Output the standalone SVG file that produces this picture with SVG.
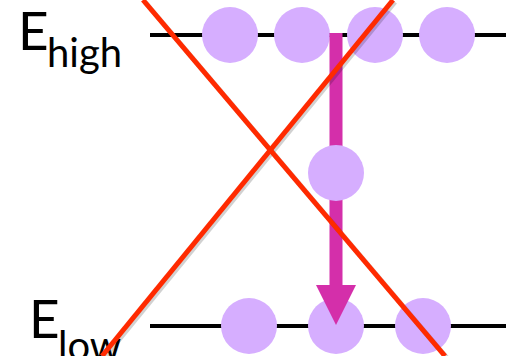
<svg xmlns="http://www.w3.org/2000/svg" width="506" height="356" viewBox="0 0 506 356">
<style>
.lvl{stroke:#000;stroke-width:4;fill:none}
.e{fill:#D6AEFF}
.lbl{font-family:Lato,"Open Sans",sans-serif;fill:#000}
.big{font-size:53px}
.sub{font-size:40px}
.x{stroke:#FF2A00;stroke-width:5;fill:none}
.xs{stroke:#000;stroke-opacity:0.18;stroke-width:5;fill:none}
</style>
<g id="labels">
<text class="lbl big" x="18" y="50">E</text><text class="lbl sub" x="47" y="67">high</text>
<text class="lbl big" x="29" y="338">E</text><text class="lbl sub" x="58" y="360">low</text>
</g>
<g id="levels">
<line id="high-level" class="lvl" x1="150" y1="35" x2="506" y2="35"/>
<line id="low-level" class="lvl" x1="150" y1="326" x2="506" y2="326"/>
</g>
<g id="electrons">
<circle class="e" cx="230" cy="35" r="28"/>
<circle class="e" cx="302" cy="35" r="28"/>
<circle class="e" cx="375" cy="35" r="28"/>
<circle class="e" cx="447" cy="35" r="28"/>
<circle class="e" cx="249" cy="326" r="28"/>
<circle class="e" cx="336" cy="326" r="28"/>
<circle class="e" cx="423" cy="326" r="28"/>
</g>
<g id="connectors">
<path id="arrow" fill="#D42FAA" d="M329.5,33 H342.5 V285 H356 L336,325 L316,285 H329.5 Z"/>
</g>
<g id="moving-electron">
<circle class="e" cx="336" cy="173" r="28"/>
</g>
<g id="cross">
<line class="xs" x1="145" y1="2" x2="447" y2="358"/>
<line class="xs" x1="395" y1="2" x2="104" y2="358"/>
<line class="x" x1="143" y1="0" x2="445" y2="356"/>
<line class="x" x1="393" y1="0" x2="102" y2="356"/>
</g>
</svg>
